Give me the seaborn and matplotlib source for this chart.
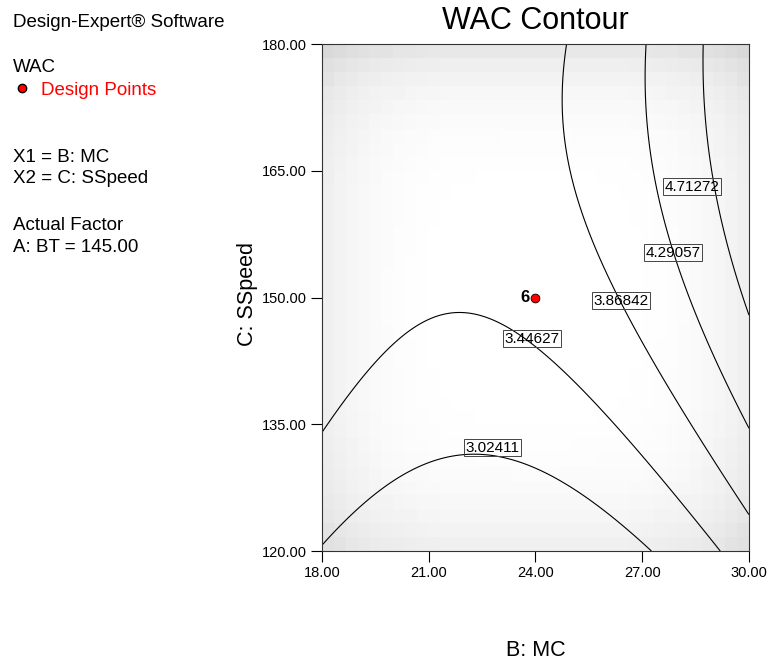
import numpy as np
import pandas as pd
import matplotlib
matplotlib.use("Agg")
import matplotlib.pyplot as plt
from matplotlib.lines import Line2D
import seaborn as sns

# contour levels printed on the chart
levels = [3.02411, 3.44627, 3.86842, 4.29057, 4.71272]

# points: B: MC and C: SSpeed
c1_mc = [18.02, 18.79, 19.72, 20.66, 21.97, 23.00, 23.94, 24.88, 25.81, 27.20]
c1_ss = [120.9, 124.5, 128.0, 130.2, 131.2, 130.6, 129.2, 127.0, 124.5, 120.0]
c2_mc = [18.02, 19.26, 20.19, 21.13, 21.78, 22.53, 23.47, 24.88, 25.81, 26.75, 27.69, 29.14]
c2_ss = [134.4, 140.6, 144.4, 146.9, 148.2, 147.7, 145.8, 141.2, 137.5, 133.5, 129.6, 120.0]
c3_mc = [24.95, 24.83, 24.80, 24.88, 25.16, 25.63, 26.19, 26.38, 27.69, 28.62, 30.00]
c3_ss = [180.0, 176.5, 172.9, 167.8, 161.9, 156.0, 150.9, 149.7, 140.4, 133.8, 124.1]
c4_mc = [27.12, 27.08, 27.22, 27.55, 27.88, 28.34, 29.09, 30.00]
c4_ss = [180.0, 173.8, 165.9, 159.6, 155.0, 149.7, 143.0, 134.1]
c5_mc = [28.69, 28.74, 28.86, 29.00, 29.33, 29.66, 30.00]
c5_ss = [180.0, 173.8, 167.8, 163.1, 157.2, 152.1, 147.1]

# where the level labels sit
label_mc = [22.78, 23.90, 26.40, 27.86, 28.39]
label_ss = [132.2, 145.1, 149.6, 155.3, 163.1]

# design point
design_mc = [24.0]
design_ss = [150.0]
design_run = ["6"]

x_ticks = [18, 21, 24, 27, 30]
y_ticks = [120, 135, 150, 165, 180]

# put the traced points in one table
traces = [(c1_mc, c1_ss), (c2_mc, c2_ss), (c3_mc, c3_ss), (c4_mc, c4_ss), (c5_mc, c5_ss)]
rows = []
for lv, (mc, ss) in zip(levels, traces):
    for a, b in zip(mc, ss):
        rows.append({"MC": a, "SS": b, "WAC": lv})
df = pd.DataFrame(rows)


def coded(mc, ss):
    return (np.asarray(mc) - 24.0) / 6.0, (np.asarray(ss) - 150.0) / 30.0


def terms(u, v):
    return np.column_stack([np.ones_like(u), u, v, u * v, u ** 2, v ** 2])


# quadratic response surface fitted through the traced contour points
u, v = coded(df["MC"], df["SS"])
coef, *_ = np.linalg.lstsq(terms(u, v), df["WAC"].to_numpy(), rcond=None)

gx, gy = np.meshgrid(np.linspace(18, 30, 301), np.linspace(120, 180, 301))
gu, gv = coded(gx, gy)
gz = (terms(gu.ravel(), gv.ravel()) @ coef).reshape(gx.shape)

# light gray shading towards the corners of the design space
su, sv = np.meshgrid(np.linspace(-1, 1, 36), np.linspace(-1, 1, 36))
shade = 1 - 0.06 * (su ** 4 + sv ** 4) - 0.03 * np.clip(sv, 0, 1) ** 10

sns.set_style("white")
plt.rcParams["font.family"] = ["Liberation Sans", "DejaVu Sans"]
plt.rcParams["text.color"] = "black"
plt.rcParams["axes.labelcolor"] = "black"
plt.rcParams["xtick.color"] = "black"
plt.rcParams["ytick.color"] = "black"

fig = plt.figure(figsize=(7.7, 6.64), dpi=100)
ax = fig.add_axes([322 / 770, 1 - 551 / 664, 427 / 770, 507 / 664])

ax.imshow(shade, cmap="gray", vmin=0, vmax=1, extent=[18, 30, 120, 180],
          origin="lower", aspect="auto", interpolation="nearest", zorder=0)
ax.contour(gx, gy, gz, levels=levels, colors="black", linewidths=0.8, zorder=2)

for lv, a, b in zip(levels, label_mc, label_ss):
    ax.text(a, b, f"{lv:.5f}", fontsize=11, ha="center", va="center", zorder=3,
            bbox=dict(boxstyle="square,pad=0.1", fc="none", ec="#444444", lw=0.7))

sns.scatterplot(x=design_mc, y=design_ss, color="red", edgecolor="black",
                s=40, linewidth=0.6, ax=ax, zorder=5, legend=False)
for a, b, t in zip(design_mc, design_ss, design_run):
    ax.annotate(t, (a, b), xytext=(-4, 0), textcoords="offset points",
                ha="right", va="center", fontsize=12, fontweight="bold")

ax.set_xlim(18, 30)
ax.set_ylim(120, 180)
ax.set_xticks(x_ticks)
ax.set_yticks(y_ticks)
ax.set_xticklabels([f"{t:.2f}" for t in x_ticks])
ax.set_yticklabels([f"{t:.2f}" for t in y_ticks])
ax.tick_params(direction="out", length=8, width=0.8, labelsize=10.5, pad=3,
               bottom=True, left=True, colors="black")
for s in ax.spines.values():
    s.set_color("#333333")
    s.set_linewidth(0.8)

ax.set_xlabel("B: MC", fontsize=15.5)
ax.xaxis.set_label_coords(0.5, -0.175)
ax.set_ylabel("C: SSpeed", fontsize=15.5)
ax.yaxis.set_label_coords(-0.15, 0.507)

fig.text(535 / 770, 1 - 29 / 664, "WAC Contour", fontsize=22, ha="center", va="baseline")

# side notes like the Design-Expert report
side = [("Design-Expert® Software", 13, 27, "black"),
        ("WAC", 13, 72, "black"),
        ("Design Points", 41, 95, "red"),
        ("X1 = B: MC", 13, 162, "black"),
        ("X2 = C: SSpeed", 13, 183, "black"),
        ("Actual Factor", 13, 230, "black"),
        ("A: BT = 145.00", 13, 252, "black")]
for txt, px, py, col in side:
    fig.text(px / 770, 1 - py / 664, txt, fontsize=13.5, color=col, va="baseline")
fig.add_artist(Line2D([22 / 770], [1 - 88 / 664], marker="o", color="red",
                      markeredgecolor="black", markersize=6, transform=fig.transFigure))

fig.savefig("out.png", dpi=100)
